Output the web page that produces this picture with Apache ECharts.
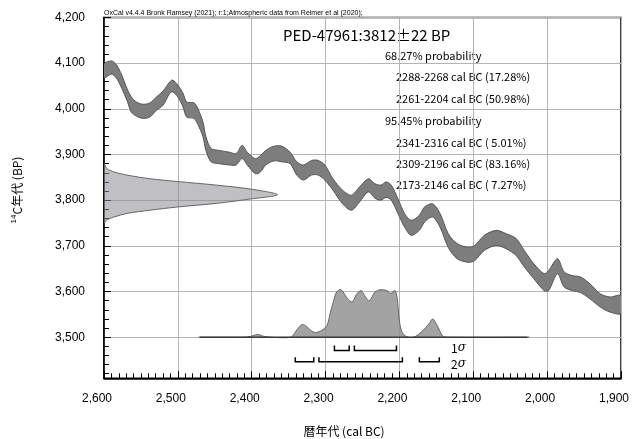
<!DOCTYPE html>
<html>
<head>
<meta charset="utf-8">
<title>PED-47961 calibration</title>
<script src="https://cdn.jsdelivr.net/npm/echarts@6/dist/echarts.min.js"></script>
<style>
  html, body { margin: 0; padding: 0; background: #fff; }
  #chart { width: 632px; height: 439px; }
</style>
</head>
<body>
<div id="chart"></div>
<script>
// calibration curve band: cal BC year, upper and lower edge in BP
var curveYear  = [2600, 2590, 2583, 2576, 2569, 2563, 2556, 2547, 2538, 2529, 2520, 2511, 2507, 2500, 2493, 2488, 2478, 2473, 2466, 2462, 2455, 2444, 2430, 2421, 2413, 2406, 2395, 2388, 2381, 2370, 2359, 2348, 2339, 2330, 2319, 2310, 2301, 2290, 2277, 2265, 2254, 2242, 2233, 2225, 2218, 2211, 2202, 2193, 2184, 2173, 2166, 2155, 2145, 2134, 2122, 2107, 2098, 2085, 2069, 2056, 2042, 2031, 2018, 2004, 1998, 1986, 1977, 1966, 1955, 1942, 1928, 1915, 1900];
var curveUpper = [4098, 4105, 4096, 4074, 4045, 4026, 4015, 4010, 4013, 4026, 4039, 4059, 4063, 4052, 4034, 4015, 4013, 4001, 3971, 3939, 3913, 3909, 3905, 3902, 3920, 3905, 3891, 3898, 3909, 3918, 3918, 3905, 3884, 3877, 3887, 3887, 3877, 3847, 3822, 3811, 3829, 3847, 3836, 3833, 3840, 3833, 3803, 3771, 3756, 3767, 3785, 3792, 3771, 3727, 3705, 3697, 3701, 3723, 3734, 3727, 3716, 3690, 3661, 3639, 3646, 3672, 3643, 3635, 3632, 3617, 3595, 3588, 3591];
var curveLower = [4068, 4076, 4067, 4045, 4019, 3993, 3984, 3979, 3982, 3997, 4008, 4034, 4037, 4026, 4004, 3982, 3979, 3966, 3939, 3909, 3884, 3880, 3877, 3877, 3891, 3877, 3858, 3862, 3877, 3886, 3884, 3880, 3855, 3844, 3855, 3855, 3844, 3822, 3792, 3778, 3796, 3818, 3804, 3800, 3806, 3800, 3771, 3741, 3723, 3734, 3752, 3763, 3741, 3697, 3672, 3664, 3668, 3690, 3701, 3694, 3679, 3654, 3628, 3602, 3602, 3639, 3610, 3602, 3598, 3584, 3566, 3555, 3552];

// measured date 3812±22 BP, drawn on the 14C axis (width in years)
var dateBP    = [3880, 3869, 3862, 3855, 3847, 3841, 3833, 3824, 3812, 3803, 3793, 3785, 3778, 3771, 3763, 3757, 3750];
var dateWidth = [0, 4, 13, 31, 62, 99, 152, 200, 235, 200, 152, 99, 62, 31, 13, 4, 0];

// calibrated probability (height above the 3500 BP base)
var probBase = 3500;
var probYear   = [2470, 2430, 2410, 2401, 2392, 2384, 2375, 2347, 2341, 2336, 2331, 2326, 2320, 2314, 2305, 2298, 2294, 2289, 2285, 2279, 2271, 2264, 2258, 2252, 2247, 2241, 2233, 2226, 2217, 2212, 2206, 2203, 2201, 2199, 2195, 2188, 2179, 2168, 2160, 2155, 2149, 2142, 2137, 2027];
var probHeight = [0, 0, 0, 2, 6, 2, 0, 0, 11, 22, 28, 24, 15, 10, 15, 26, 51, 80, 99, 104, 86, 77, 94, 102, 91, 80, 99, 104, 102, 96, 102, 85, 50, 25, 7, 0, 1, 15, 29, 40, 26, 4, 0, 0];

// ranges
var sigma1 = [[2288, 2268], [2261, 2204]];
var sigma2 = [[2341, 2316], [2309, 2196], [2173, 2146]];

var yLabels = [3500, 3600, 3700, 3800, 3900, 4000, 4100, 4200];
var yMinor = [];
for (var v = 3420; v < 4200; v += 20) yMinor.push(v);

var chart = echarts.init(document.getElementById('chart'));

function bandItem(params, api) {
  var pts = [];
  for (var i = 0; i < curveYear.length; i++) pts.push(api.coord([curveYear[i], curveUpper[i]]));
  for (var j = curveYear.length - 1; j >= 0; j--) pts.push(api.coord([curveYear[j], curveLower[j]]));
  return {
    type: 'polygon',
    shape: { points: pts, smooth: 0.3 },
    style: { fill: '#7d7d7d', stroke: '#555', lineWidth: 1 }
  };
}

function dateItem(params, api) {
  var pts = [];
  for (var i = 0; i < dateBP.length; i++) pts.push(api.coord([2600 - dateWidth[i], dateBP[i]]));
  return {
    type: 'polygon',
    shape: { points: pts, smooth: 0.3 },
    style: { fill: 'rgba(140,140,148,0.55)', stroke: '#666', lineWidth: 1 }
  };
}

function probItem(params, api) {
  var pts = [];
  for (var i = 0; i < probYear.length; i++) pts.push(api.coord([probYear[i], probBase + probHeight[i]]));
  var a = api.coord([probYear[0], probBase]);
  var b = api.coord([probYear[probYear.length - 1], probBase]);
  return {
    type: 'group',
    children: [
      { type: 'polygon', shape: { points: pts, smooth: 0.3 },
        style: { fill: 'rgba(140,140,140,0.8)', stroke: '#666', lineWidth: 1 } },
      { type: 'line', shape: { x1: a[0], y1: a[1], x2: b[0], y2: b[1] },
        style: { stroke: '#222', lineWidth: 1 } }
    ]
  };
}

function bracketItem(params, api) {
  var rows = [[sigma1, 3471, 3482], [sigma2, 3446, 3456]];
  var kids = [];
  rows.forEach(function (r) {
    r[0].forEach(function (rg) {
      var p1 = api.coord([rg[0], r[2]]), p2 = api.coord([rg[0], r[1]]);
      var p3 = api.coord([rg[1], r[1]]), p4 = api.coord([rg[1], r[2]]);
      kids.push({ type: 'polyline', shape: { points: [p1, p2, p3, p4] },
        style: { stroke: '#000', lineWidth: 1.5, fill: null } });
    });
  });
  return { type: 'group', children: kids };
}

var jp = "'Noto Sans CJK JP', sans-serif";
var latin = "'Liberation Sans', Arial, sans-serif";

var option = {
  animation: false,
  backgroundColor: '#fff',
  grid: { left: 104, right: 8.5, top: 17.5, bottom: 60.7, show: true, borderColor: '#000', borderWidth: 1.5 },
  xAxis: {
    type: 'value', inverse: true, min: 1900, max: 2600, interval: 100,
    axisLine: { lineStyle: { color: '#000', width: 1.5 } },
    axisTick: { inside: true, length: 7, lineStyle: { color: '#000' } },
    minorTick: { show: true, splitNumber: 10, length: 5, lineStyle: { color: '#000' } },
    splitLine: { show: true, lineStyle: { color: '#b4b4b4', width: 1 } },
    axisLabel: { color: '#000', fontSize: 12, fontFamily: latin, margin: 14, padding: [0, 14, 0, 0] }
  },
  yAxis: [{
    type: 'value', min: 3410, max: 4200,
    axisLine: { show: true, lineStyle: { color: '#000', width: 1.5 } },
    axisTick: { show: true, inside: true, length: 7, customValues: yLabels, lineStyle: { color: '#000' } },
    splitLine: { show: true, lineStyle: { color: '#b4b4b4', width: 1 } },
    axisLabel: { customValues: yLabels, color: '#000', fontSize: 12, fontFamily: latin, margin: 19, padding: [4, 0, 0, 0] }
  }, {
    type: 'value', min: 3410, max: 4200, position: 'left',
    axisLine: { show: false },
    axisTick: { show: true, inside: true, length: 5, customValues: yMinor, lineStyle: { color: '#000' } },
    splitLine: { show: false },
    axisLabel: { show: false }
  }],
  graphic: [
    { type: 'text', x: 104, y: 13, style: { text: 'OxCal v4.4.4 Bronk Ramsey (2021); r:1;Atmospheric data from Reimer et al (2020);', font: '7px ' + latin, fill: '#000', textVerticalAlign: 'middle' } },
    { type: 'text', x: 283, y: 35, style: { text: 'PED-47961:3812±22 BP', font: '15px ' + jp, fill: '#000', textVerticalAlign: 'middle' } },
    { type: 'text', x: 385, y: 56, style: { text: '68.27% probability', font: '11px ' + jp, fill: '#000', textVerticalAlign: 'middle' } },
    { type: 'text', x: 396, y: 77, style: { text: '2288-2268 cal BC (17.28%)', font: '11px ' + jp, fill: '#000', textVerticalAlign: 'middle' } },
    { type: 'text', x: 396, y: 99, style: { text: '2261-2204 cal BC (50.98%)', font: '11px ' + jp, fill: '#000', textVerticalAlign: 'middle' } },
    { type: 'text', x: 385, y: 121, style: { text: '95.45% probability', font: '11px ' + jp, fill: '#000', textVerticalAlign: 'middle' } },
    { type: 'text', x: 396, y: 143, style: { text: '2341-2316 cal BC ( 5.01%)', font: '11px ' + jp, fill: '#000', textVerticalAlign: 'middle' } },
    { type: 'text', x: 396, y: 164, style: { text: '2309-2196 cal BC (83.16%)', font: '11px ' + jp, fill: '#000', textVerticalAlign: 'middle' } },
    { type: 'text', x: 396, y: 185, style: { text: '2173-2146 cal BC ( 7.27%)', font: '11px ' + jp, fill: '#000', textVerticalAlign: 'middle' } },
    { type: 'text', x: 451, y: 348, style: { text: '1{s|σ}', font: '12px ' + jp, fill: '#000', textVerticalAlign: 'middle', rich: { s: { fontStyle: 'italic', fontSize: 12, fontFamily: 'DejaVu Serif' } } } },
    { type: 'text', x: 451, y: 364, style: { text: '2{s|σ}', font: '12px ' + jp, fill: '#000', textVerticalAlign: 'middle', rich: { s: { fontStyle: 'italic', fontSize: 12, fontFamily: 'DejaVu Serif' } } } },
    { type: 'text', x: 17, y: 190, rotation: Math.PI / 2, style: { text: '{sup|14}C年代 (BP)', font: '12px ' + jp, fill: '#000', textAlign: 'center', textVerticalAlign: 'middle', rich: { sup: { fontSize: 8, fontFamily: latin, verticalAlign: 'top', lineHeight: 14 } } } },
    { type: 'text', x: 344, y: 431, style: { text: '暦年代 (cal BC)', font: '12px ' + jp, fill: '#000', textAlign: 'center', textVerticalAlign: 'middle' } }
  ],
  series: [
    { type: 'custom', name: 'date', renderItem: dateItem, data: [[2250, 3800]], clip: true, silent: true },
    { type: 'custom', name: 'curve', renderItem: bandItem, data: [[2250, 3800]], clip: true, silent: true },
    { type: 'custom', name: 'probability', renderItem: probItem, data: [[2250, 3800]], clip: true, silent: true },
    { type: 'custom', name: 'ranges', renderItem: bracketItem, data: [[2250, 3800]], clip: false, silent: true }
  ]
};

chart.setOption(option);
</script>
</body>
</html>
